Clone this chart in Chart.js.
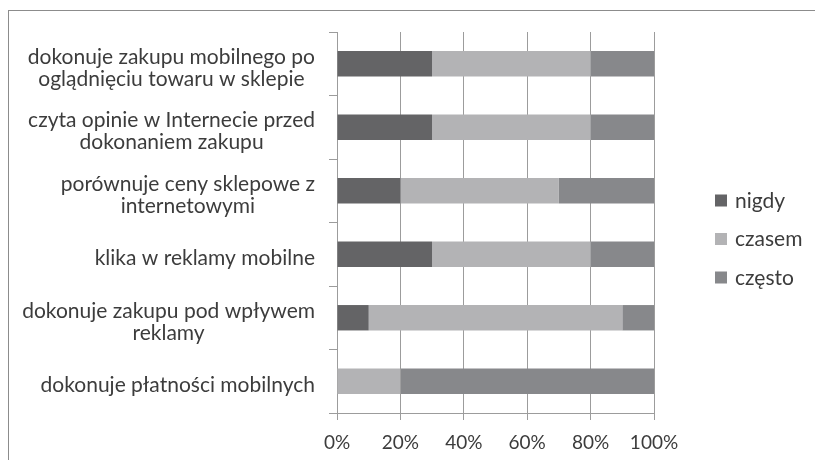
<!DOCTYPE html>
<html>
<head>
<meta charset="utf-8">
<script src="https://cdn.jsdelivr.net/npm/chart.js@4"></script>
<style>
  html, body { margin: 0; padding: 0; background: #fff; }
  #wrap { position: relative; width: 815px; height: 460px; overflow: hidden; }
  #frame { position: absolute; left: 8px; top: 10px; width: 900px; height: 500px;
           border-left: 1px solid #8c8c8c; border-top: 1px solid #8c8c8c; }
  #chart { position: absolute; left: 0; top: 0; }
</style>
</head>
<body>
<div id="wrap">
  <div id="frame"></div>
  <canvas id="chart" width="815" height="460"></canvas>
</div>
<script>
// categories, top to bottom (each entry = lines of the label)
const categories = [
  ["dokonuje zakupu mobilnego po", "oglądnięciu towaru w sklepie"],
  ["czyta opinie w Internecie przed", "dokonaniem zakupu"],
  ["porównuje ceny sklepowe z", "internetowymi"],
  ["klika w reklamy mobilne"],
  ["dokonuje zakupu pod wpływem", "reklamy"],
  ["dokonuje płatności mobilnych"]
];
const nigdy = [30, 30, 20, 30, 10, 0];
const czasem = [50, 50, 50, 50, 80, 20];
const czesto = [20, 20, 30, 20, 10, 80];
const seriesNames = ["nigdy", "czasem", "często"];
const xTicks = [0, 20, 40, 60, 80, 100];

const colors = ["#646466", "#b3b3b5", "#87888b"];
const textColor = "#3c3c3c";
const gridColor = "#9c9c9c";
const fontFamily = "Lato";
const labelSize = 21;
const tickSize = 19;

// category labels: block right-aligned, lines centred inside the block
const yLabels = {
  id: "yLabels",
  afterDraw(chart) {
    const ctx = chart.ctx;
    const y = chart.scales.y;
    const right = chart.chartArea.left - 22;
    const lineH = 22;
    ctx.save();
    ctx.font = labelSize + "px " + fontFamily;
    ctx.fillStyle = textColor;
    ctx.textAlign = "center";
    ctx.textBaseline = "alphabetic";
    categories.forEach((lines, i) => {
      const cy = y.getPixelForTick(i);
      const w = Math.max(...lines.map(l => ctx.measureText(l).width));
      const cx = right - w / 2;
      lines.forEach((l, j) => {
        ctx.fillText(l, cx, cy + 11 + (j - (lines.length - 1) / 2) * lineH);
      });
    });
    ctx.restore();
  }
};

// legend to the right of the plot
const sideLegend = {
  id: "sideLegend",
  afterDraw(chart) {
    const ctx = chart.ctx;
    const area = chart.chartArea;
    const x = area.right + 61;
    const midY = (area.top + area.bottom) / 2 + 16.5;
    const step = 38.5;
    ctx.save();
    ctx.font = labelSize + "px " + fontFamily;
    ctx.textBaseline = "alphabetic";
    ctx.textAlign = "left";
    chart.data.datasets.forEach((ds, i) => {
      const cy = midY + (i - 1) * step;
      ctx.fillStyle = ds.backgroundColor;
      ctx.fillRect(x, cy - 6, 12, 12);
      ctx.fillStyle = textColor;
      ctx.fillText(ds.label, x + 20, cy + 7);
    });
    ctx.restore();
  }
};

function draw() {
  new Chart(document.getElementById("chart"), {
    type: "bar",
    data: {
      labels: categories,
      datasets: [
        { label: seriesNames[0], data: nigdy, backgroundColor: colors[0] },
        { label: seriesNames[1], data: czasem, backgroundColor: colors[1] },
        { label: seriesNames[2], data: czesto, backgroundColor: colors[2] }
      ]
    },
    options: {
      indexAxis: "y",
      responsive: false,
      animation: false,
      devicePixelRatio: 1,
      layout: { padding: { left: 0, top: 32, right: 161, bottom: 0 } },
      datasets: { bar: { barPercentage: 0.4, categoryPercentage: 1 } },
      plugins: { legend: { display: false }, tooltip: { enabled: false } },
      scales: {
        x: {
          stacked: true,
          min: 0,
          max: 100,
          afterBuildTicks: s => { s.ticks = xTicks.map(v => ({ value: v })); },
          afterFit: s => { s.height = 47; },
          grid: { color: gridColor, tickLength: 7, tickColor: gridColor },
          border: { display: true, color: gridColor },
          ticks: {
            color: textColor,
            font: { family: fontFamily, size: tickSize },
            padding: 11,
            callback: v => v + "%"
          }
        },
        y: {
          stacked: true,
          afterFit: s => { s.width = 337; },
          grid: { drawOnChartArea: false, offset: true, tickLength: 8, color: gridColor },
          border: { display: true, color: gridColor },
          ticks: { display: false }
        }
      }
    },
    plugins: [yLabels, sideLegend]
  });
}

if (document.fonts && document.fonts.load) {
  document.fonts.load(labelSize + "px " + fontFamily).then(draw, draw);
} else {
  draw();
}
</script>
</body>
</html>
